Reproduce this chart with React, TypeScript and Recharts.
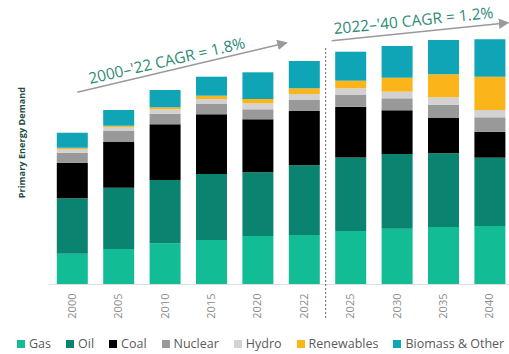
import { BarChart, Bar, XAxis, YAxis } from 'recharts';

const YEARS = ['2000', '2005', '2010', '2015', '2020', '2022', '2025', '2030', '2035', '2040'];
const GAS = [30.8, 35.5, 41.2, 44.5, 48.5, 49.5, 53.5, 55.8, 57.5, 58.5];
const OIL = [55.4, 61.3, 63.3, 66, 63.7, 69.8, 73.5, 74.7, 73.7, 68.3];
const COAL = [35.6, 45.7, 55.7, 59.7, 53, 54.2, 50.8, 43.7, 35.3, 26];
const NUCLEAR = [10, 11, 10.6, 10.3, 10, 11, 11.7, 12, 13.3, 14.4];
const HYDRO = [3.7, 4, 4.4, 5, 6, 6, 6.7, 6.6, 7.4, 7.3];
const RENEWABLES = [1.3, 1.3, 2, 3.3, 4.3, 5.7, 7.6, 14, 23, 33.3];
const BIOMASS = [15, 15.7, 17.3, 19, 26.7, 27.3, 29, 31.7, 34.3, 37.4];

const SERIES = [
  { key: 'gas', name: 'Gas', color: '#12bc94', values: GAS },
  { key: 'oil', name: 'Oil', color: '#0a8471', values: OIL },
  { key: 'coal', name: 'Coal', color: '#000000', values: COAL },
  { key: 'nuclear', name: 'Nuclear', color: '#999999', values: NUCLEAR },
  { key: 'hydro', name: 'Hydro', color: '#d2d2d2', values: HYDRO },
  { key: 'renewables', name: 'Renewables', color: '#fbb419', values: RENEWABLES },
  { key: 'biomass', name: 'Biomass & Other', color: '#10a4b7', values: BIOMASS },
];

const data = YEARS.map((year, i) => {
  const row: Record<string, string | number> = { year };
  SERIES.forEach((s) => {
    row[s.key] = s.values[i];
  });
  return row;
});

const FONT = '"Open Sans", sans-serif';
const TEAL_TEXT = '#2f8b77';

function YearTick(props: any) {
  const { x, y, payload } = props;
  const ty = y + 9;
  return (
    <text
      x={x}
      y={ty}
      dy="0.35em"
      transform={`rotate(-90, ${x}, ${ty})`}
      textAnchor="end"
      fill="#8c8c8c"
      fontSize={11}
      fontFamily={FONT}
    >
      {payload.value}
    </text>
  );
}

export default function App() {
  return (
    <div style={{ position: 'absolute', left: 0, top: 0, width: 509, height: 354, overflow: 'hidden', background: '#fff' }}>
      <BarChart
        width={520}
        height={354}
        data={data}
        margin={{ top: 24.5, right: 7.2, bottom: 29.5, left: 48.8 }}
      >
        <XAxis
          dataKey="year"
          height={40}
          tickLine={false}
          tickSize={0}
          tickMargin={0}
          axisLine={{ stroke: '#dedede' }}
          tick={<YearTick />}
          interval={0}
        />
        <YAxis hide domain={[0, 260]} />
        {SERIES.map((s) => (
          <Bar key={s.key} dataKey={s.key} name={s.name} stackId="a" fill={s.color} barSize={31} isAnimationActive={false} />
        ))}
      </BarChart>

      <svg width={509} height={354} style={{ position: 'absolute', left: 0, top: 0, pointerEvents: 'none' }}>
        <defs>
          <marker id="arrow" viewBox="0 0 10 10" refX="9" refY="5" markerWidth="7" markerHeight="7" orient="auto-start-reverse">
            <path d="M0,0 L10,5 L0,10 z" fill="#9a9a9a" />
          </marker>
        </defs>
        <line x1={325.7} y1={48} x2={325.7} y2={318} stroke="#666" strokeWidth={1} strokeDasharray="2 2" />
        <line x1={77.3} y1={92.3} x2={286.7} y2={42.7} stroke="#9a9a9a" strokeWidth={1.5} markerEnd="url(#arrow)" />
        <line x1={331.7} y1={40.7} x2={508.3} y2={22.7} stroke="#9a9a9a" strokeWidth={1.5} markerEnd="url(#arrow)" />
        <text x={168} y={66} textAnchor="middle" transform="rotate(-13, 168, 66)" fill={TEAL_TEXT} fontSize={15.5} fontFamily={FONT}>
          2000–'22 CAGR = 1.8%
        </text>
        <text x={414} y={26} textAnchor="middle" transform="rotate(-5.8, 414, 26)" fill={TEAL_TEXT} fontSize={15.5} fontFamily={FONT}>
          2022–'40 CAGR = 1.2%
        </text>
        <text
          x={21.5}
          y={142.5}
          dy="0.35em"
          textAnchor="middle"
          transform="rotate(-90, 21.5, 142.5)"
          fill="#1d4e3e"
          fontSize={9.2}
          fontWeight="bold"
          fontFamily={FONT}
        >
          Primary Energy Demand
        </text>
      </svg>

      <div
        style={{
          position: 'absolute',
          left: 17,
          top: 335,
          display: 'flex',
          gap: 15,
          fontFamily: FONT,
          fontSize: 12.5,
          color: '#5a5a5a',
          whiteSpace: 'nowrap',
        }}
      >
        {SERIES.map((s) => (
          <div key={s.key} style={{ display: 'flex', alignItems: 'center' }}>
            <span style={{ display: 'inline-block', width: 8, height: 8, background: s.color, marginRight: 4 }} />
            {s.name}
          </div>
        ))}
      </div>
    </div>
  );
}
